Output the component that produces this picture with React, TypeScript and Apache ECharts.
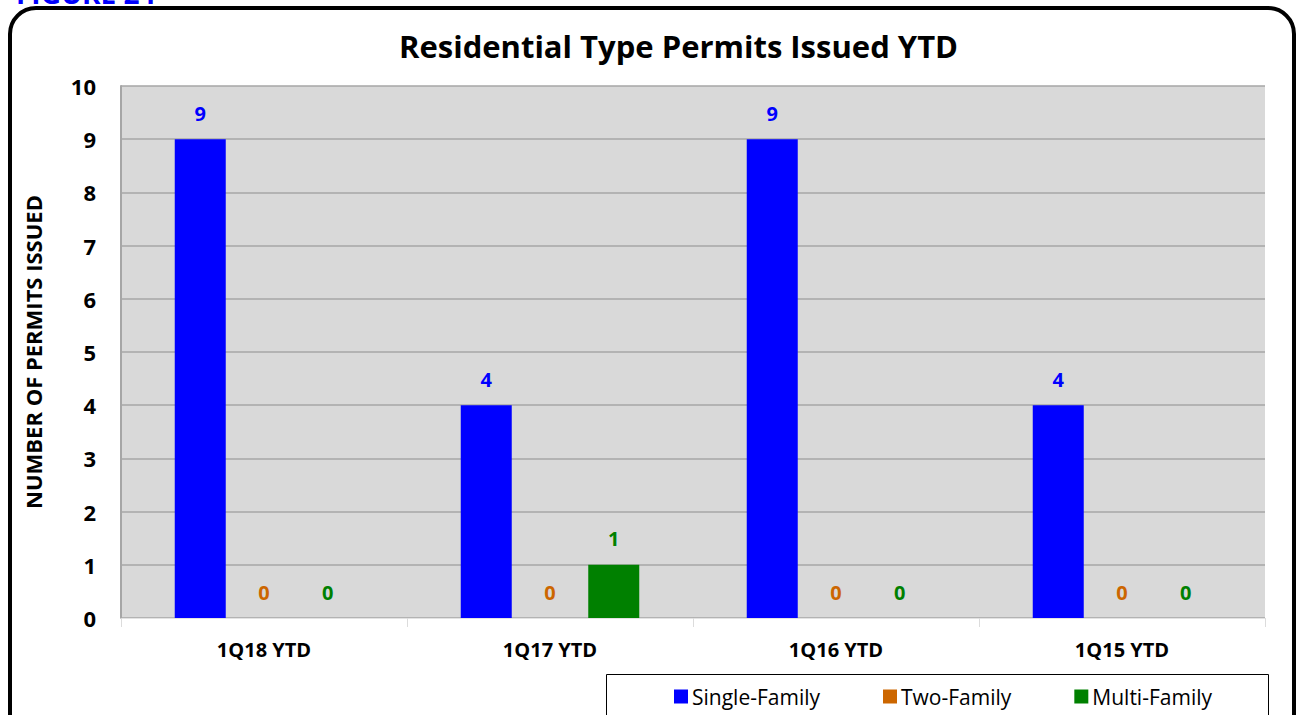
import React, { useEffect, useRef } from "react";
import * as echarts from "echarts";

const categories = ["1Q18 YTD", "1Q17 YTD", "1Q16 YTD", "1Q15 YTD"];
const singleFamily = [9, 4, 9, 4];
const twoFamily = [0, 0, 0, 0];
const multiFamily = [0, 1, 0, 0];
const seriesNames = ["Single-Family", "Two-Family", "Multi-Family"];
const seriesColors = ["#0000ff", "#cc6600", "#008000"];
const yTicksMax = 10;

const FONT = "'Open Sans', sans-serif";

export default function App() {
  const ref = useRef<HTMLDivElement>(null);
  useEffect(() => {
    if (!ref.current) return;
    const chart = echarts.init(ref.current, null, { renderer: "svg" });
    const data = [singleFamily, twoFamily, multiFamily];
    chart.setOption({
      animation: false,
      backgroundColor: "#ffffff",
      textStyle: { fontFamily: FONT },
      title: {
        text: "Residential Type Permits Issued YTD",
        left: 394,
        top: 25,
        textStyle: { fontFamily: FONT, fontSize: 31, fontWeight: "bold", color: "#000" },
      },
      graphic: [
        {
          type: "rect",
          shape: { x: 10, y: 8, width: 1284, height: 760, r: 26 },
          style: { fill: "none", stroke: "#000", lineWidth: 4 },
          z: 100,
        },
        {
          type: "text",
          x: 16,
          y: 7,
          style: {
            text: "FIGURE 24",
            fill: "#0000ff",
            font: `bold 28px ${FONT}`,
            verticalAlign: "bottom",
          },
        },
        {
          type: "rect",
          shape: { x: 606.5, y: 674.5, width: 662, height: 60 },
          style: { fill: "#fff", stroke: "#000", lineWidth: 1 },
          z: 1,
        },
        {
          type: "rect",
          shape: { x: 121, y: 86, width: 1144, height: 532 },
          style: { fill: "#d9d9d9" },
          z: -10,
          silent: true,
        },
      ],
      legend: {
        left: 669,
        top: 681,
        itemWidth: 14,
        itemHeight: 14,
        itemGap: 63,
        icon: "rect",
        z: 5,
        textStyle: { fontFamily: FONT, fontSize: 21, color: "#000", padding: [0, 0, 0, -1] },
        data: seriesNames,
      },
      grid: { left: 121, right: 34, top: 86, bottom: 97 },
      xAxis: {
        type: "category",
        data: categories,
        axisLine: { lineStyle: { color: "#e3e3e3", width: 1 } },
        axisTick: { show: true, length: 9, lineStyle: { color: "#dcdcdc" } },
        axisLabel: {
          margin: 21,
          fontFamily: FONT,
          fontSize: 20,
          fontWeight: "bold",
          color: "#000",
        },
      },
      yAxis: {
        type: "value",
        min: 0,
        max: yTicksMax,
        interval: 1,
        name: "NUMBER OF PERMITS ISSUED",
        nameLocation: "middle",
        nameGap: 77,
        nameTextStyle: { fontFamily: FONT, fontSize: 22, fontWeight: "bold", color: "#000" },
        axisLine: { show: true, lineStyle: { color: "#a6a6a6", width: 2 } },
        axisTick: { show: false },
        axisLabel: {
          margin: 25,
          fontFamily: FONT,
          fontSize: 22,
          fontWeight: "bold",
          color: "#000",
        },
        splitLine: { show: true, lineStyle: { color: "#a6a6a6", width: 1.5 } },
      },
      series: seriesNames.map((name, i) => ({
        name,
        type: "bar",
        data: data[i],
        barWidth: 51,
        barGap: "25%",
        itemStyle: { color: seriesColors[i] },
        label: {
          show: true,
          position: "top",
          distance: 16,
          fontFamily: FONT,
          fontSize: 20,
          fontWeight: "bold",
          color: seriesColors[i],
        },
      })),
    });
    return () => chart.dispose();
  }, []);
  return (
    <div
      ref={ref}
      style={{ position: "fixed", left: 0, top: 0, width: 1299, height: 715 }}
    />
  );
}
